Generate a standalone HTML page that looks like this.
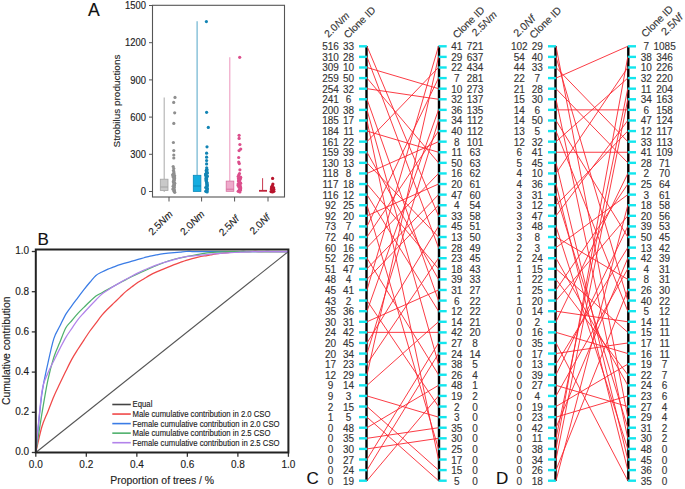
<!DOCTYPE html>
<html><head><meta charset="utf-8"><style>
html,body{margin:0;padding:0;background:#fff;width:685px;height:489px;overflow:hidden}
svg{display:block}
text{font-family:"Liberation Sans", sans-serif;stroke-width:0.14px}
</style></head><body>
<svg width="685" height="489" viewBox="0 0 685 489" font-family='"Liberation Sans", sans-serif'><text x="87.9" y="15.8" font-size="17.6" fill="#111" stroke="#111">A</text>
<rect x="152.5" y="5.3" width="132" height="191.7" fill="none" stroke="#555" stroke-width="1.1"/>
<line x1="149" y1="191.50" x2="152.5" y2="191.50" stroke="#555" stroke-width="1"/>
<text transform="translate(146,195.25) scale(0.96,1.06)" font-size="9.8" text-anchor="end" fill="#1c1c1c" stroke="#1c1c1c" stroke-width="0.22">0</text>
<line x1="149" y1="154.30" x2="152.5" y2="154.30" stroke="#555" stroke-width="1"/>
<text transform="translate(146,158.05) scale(0.96,1.06)" font-size="9.8" text-anchor="end" fill="#1c1c1c" stroke="#1c1c1c" stroke-width="0.22">300</text>
<line x1="149" y1="117.10" x2="152.5" y2="117.10" stroke="#555" stroke-width="1"/>
<text transform="translate(146,120.85) scale(0.96,1.06)" font-size="9.8" text-anchor="end" fill="#1c1c1c" stroke="#1c1c1c" stroke-width="0.22">600</text>
<line x1="149" y1="79.90" x2="152.5" y2="79.90" stroke="#555" stroke-width="1"/>
<text transform="translate(146,83.65) scale(0.96,1.06)" font-size="9.8" text-anchor="end" fill="#1c1c1c" stroke="#1c1c1c" stroke-width="0.22">900</text>
<line x1="149" y1="42.70" x2="152.5" y2="42.70" stroke="#555" stroke-width="1"/>
<text transform="translate(146,46.45) scale(0.96,1.06)" font-size="9.8" text-anchor="end" fill="#1c1c1c" stroke="#1c1c1c" stroke-width="0.22">1200</text>
<line x1="149" y1="5.50" x2="152.5" y2="5.50" stroke="#555" stroke-width="1"/>
<text transform="translate(146,9.25) scale(0.96,1.06)" font-size="9.8" text-anchor="end" fill="#1c1c1c" stroke="#1c1c1c" stroke-width="0.22">1500</text>
<text transform="translate(119.9,101) rotate(-90)" font-size="9.95" text-anchor="middle" fill="#1c1c1c" stroke="#1c1c1c" stroke-width="0.22">Strobilus productions</text>
<line x1="169" y1="197" x2="169" y2="201.5" stroke="#555" stroke-width="1"/>
<text transform="translate(173.3,214.9) rotate(-45)" font-size="10" text-anchor="end" fill="#1c1c1c" stroke="#1c1c1c" stroke-width="0.22">2.5<tspan font-style="italic">Nm</tspan></text>
<line x1="201.6" y1="197" x2="201.6" y2="201.5" stroke="#555" stroke-width="1"/>
<text transform="translate(205.2,214.8) rotate(-45)" font-size="10" text-anchor="end" fill="#1c1c1c" stroke="#1c1c1c" stroke-width="0.22">2.0<tspan font-style="italic">Nm</tspan></text>
<line x1="234.6" y1="197" x2="234.6" y2="201.5" stroke="#555" stroke-width="1"/>
<text transform="translate(239.8,219.6) rotate(-45)" font-size="10" text-anchor="end" fill="#1c1c1c" stroke="#1c1c1c" stroke-width="0.22">2.5<tspan font-style="italic">Nf</tspan></text>
<line x1="268" y1="197" x2="268" y2="201.5" stroke="#555" stroke-width="1"/>
<text transform="translate(270.7,218.0) rotate(-45)" font-size="10" text-anchor="end" fill="#1c1c1c" stroke="#1c1c1c" stroke-width="0.22">2.0<tspan font-style="italic">Nf</tspan></text>
<line x1="164.2" y1="97.4" x2="164.2" y2="179.2" stroke="#b0b0b0" stroke-width="1.1"/><line x1="164.2" y1="190.5" x2="164.2" y2="192" stroke="#b0b0b0" stroke-width="1"/><rect x="160.3" y="179.2" width="7.699999999999989" height="11.300000000000011" fill="#c9c9c9" stroke="#a3a3a3" stroke-width="0.8"/><line x1="160.3" y1="187" x2="168" y2="187" stroke="#a3a3a3" stroke-width="1"/>
<line x1="197.1" y1="21.2" x2="197.1" y2="175.3" stroke="#62aecd" stroke-width="1.1"/><rect x="193.3" y="175.3" width="7.599999999999994" height="16.099999999999994" fill="#14ade0" stroke="#0a88b8" stroke-width="0.8"/><line x1="193.3" y1="186" x2="200.9" y2="186" stroke="#0a88b8" stroke-width="1"/>
<line x1="229.8" y1="57.2" x2="229.8" y2="181.1" stroke="#ee9ec2" stroke-width="1.1"/><rect x="226.2" y="181.1" width="7.600000000000023" height="10.200000000000017" fill="#eeaacb" stroke="#d8709f" stroke-width="0.8"/><line x1="226.2" y1="189.2" x2="233.8" y2="189.2" stroke="#d8709f" stroke-width="1"/>
<line x1="262.6" y1="178.2" x2="262.6" y2="190.5" stroke="#c8384e" stroke-width="1"/>
<line x1="259" y1="190.8" x2="267" y2="190.8" stroke="#c0243c" stroke-width="1.8"/>
<circle cx="175" cy="97.4" r="1.6" fill="#8f8f8f"/><circle cx="173.7" cy="102.4" r="1.6" fill="#8f8f8f"/><circle cx="174.7" cy="112.8" r="1.6" fill="#8f8f8f"/><circle cx="173.8" cy="123.4" r="1.6" fill="#8f8f8f"/><circle cx="173.4" cy="142.5" r="1.6" fill="#8f8f8f"/><circle cx="173.8" cy="150.6" r="1.6" fill="#8f8f8f"/><circle cx="173.8" cy="155" r="1.6" fill="#8f8f8f"/><circle cx="173.8" cy="158" r="1.6" fill="#8f8f8f"/><circle cx="173.17592925418379" cy="166.5" r="1.6" fill="#8f8f8f"/><circle cx="173.7884584505919" cy="168.5" r="1.6" fill="#8f8f8f"/><circle cx="173.43991033309615" cy="170.5" r="1.6" fill="#8f8f8f"/><circle cx="173.9078400771924" cy="172" r="1.6" fill="#8f8f8f"/><circle cx="173.9514406082161" cy="173.5" r="1.6" fill="#8f8f8f"/><circle cx="173.13105771847964" cy="174.2" r="1.6" fill="#8f8f8f"/><circle cx="172.72633598310975" cy="175" r="1.6" fill="#8f8f8f"/><circle cx="174.67493816419292" cy="175.7" r="1.6" fill="#8f8f8f"/><circle cx="173.218708028656" cy="176.5" r="1.6" fill="#8f8f8f"/><circle cx="173.4686619220934" cy="177.2" r="1.6" fill="#8f8f8f"/><circle cx="174.6912896710209" cy="178" r="1.6" fill="#8f8f8f"/><circle cx="173.9405270150449" cy="178.7" r="1.6" fill="#8f8f8f"/><circle cx="174.37292290254877" cy="179.5" r="1.6" fill="#8f8f8f"/><circle cx="173.95270641739867" cy="180.2" r="1.6" fill="#8f8f8f"/><circle cx="173.97813628108833" cy="181" r="1.6" fill="#8f8f8f"/><circle cx="173.30123284804705" cy="181.7" r="1.6" fill="#8f8f8f"/><circle cx="173.96972131657037" cy="182.5" r="1.6" fill="#8f8f8f"/><circle cx="174.73609061428658" cy="183.2" r="1.6" fill="#8f8f8f"/><circle cx="173.7463624207666" cy="184" r="1.6" fill="#8f8f8f"/><circle cx="174.48250371240297" cy="184.7" r="1.6" fill="#8f8f8f"/><circle cx="174.04282295073918" cy="185.5" r="1.6" fill="#8f8f8f"/><circle cx="173.12806287645398" cy="186.2" r="1.6" fill="#8f8f8f"/><circle cx="174.21646049257362" cy="187" r="1.6" fill="#8f8f8f"/><circle cx="174.18219916586264" cy="187.7" r="1.6" fill="#8f8f8f"/><circle cx="173.30253531903142" cy="188.5" r="1.6" fill="#8f8f8f"/><circle cx="173.0620235029395" cy="189.2" r="1.6" fill="#8f8f8f"/><circle cx="174.4310544739579" cy="190" r="1.6" fill="#8f8f8f"/><circle cx="173.94549817733093" cy="190.7" r="1.6" fill="#8f8f8f"/><circle cx="174.1376478481316" cy="191.6" r="1.6" fill="#8f8f8f"/><circle cx="174.75762560051098" cy="192.29999999999998" r="1.6" fill="#8f8f8f"/>
<circle cx="206.4" cy="21.6" r="1.6" fill="#1284b4"/><circle cx="206.6" cy="112.3" r="1.6" fill="#1284b4"/><circle cx="208.3" cy="127.4" r="1.6" fill="#1284b4"/><circle cx="207" cy="146.8" r="1.6" fill="#1284b4"/><circle cx="206.6" cy="153.2" r="1.6" fill="#1284b4"/><circle cx="206.6" cy="157.2" r="1.6" fill="#1284b4"/><circle cx="206.6" cy="160.5" r="1.6" fill="#1284b4"/><circle cx="206.6" cy="163.9" r="1.6" fill="#1284b4"/><circle cx="206.68543307050018" cy="167.8" r="1.6" fill="#1284b4"/><circle cx="207.05797760165098" cy="169.5" r="1.6" fill="#1284b4"/><circle cx="206.31093412720134" cy="170.2" r="1.6" fill="#1284b4"/><circle cx="206.8416357877734" cy="171" r="1.6" fill="#1284b4"/><circle cx="206.40031790089137" cy="171.7" r="1.6" fill="#1284b4"/><circle cx="207.08405609906814" cy="172.5" r="1.6" fill="#1284b4"/><circle cx="207.18195998860847" cy="173.2" r="1.6" fill="#1284b4"/><circle cx="205.5754177575156" cy="174" r="1.6" fill="#1284b4"/><circle cx="205.8447439483612" cy="174.7" r="1.6" fill="#1284b4"/><circle cx="205.79057649421966" cy="175.5" r="1.6" fill="#1284b4"/><circle cx="207.33786425001676" cy="176.2" r="1.6" fill="#1284b4"/><circle cx="206.18509135992937" cy="177" r="1.6" fill="#1284b4"/><circle cx="206.72796692356025" cy="177.7" r="1.6" fill="#1284b4"/><circle cx="205.9418471571659" cy="178.5" r="1.6" fill="#1284b4"/><circle cx="206.5130373708923" cy="179.2" r="1.6" fill="#1284b4"/><circle cx="206.09455926592085" cy="180" r="1.6" fill="#1284b4"/><circle cx="206.23163887978632" cy="180.7" r="1.6" fill="#1284b4"/><circle cx="206.45313339332967" cy="181.5" r="1.6" fill="#1284b4"/><circle cx="206.65165322734634" cy="182.2" r="1.6" fill="#1284b4"/><circle cx="207.027563187526" cy="183" r="1.6" fill="#1284b4"/><circle cx="206.82756784594295" cy="183.7" r="1.6" fill="#1284b4"/><circle cx="207.07210208216003" cy="184.5" r="1.6" fill="#1284b4"/><circle cx="207.14152101951416" cy="185.2" r="1.6" fill="#1284b4"/><circle cx="207.18378136076387" cy="186" r="1.6" fill="#1284b4"/><circle cx="206.80829237589253" cy="186.7" r="1.6" fill="#1284b4"/><circle cx="205.69357931954795" cy="187.5" r="1.6" fill="#1284b4"/><circle cx="207.14914755960928" cy="188.2" r="1.6" fill="#1284b4"/><circle cx="207.13633930515633" cy="189" r="1.6" fill="#1284b4"/><circle cx="207.22845277212204" cy="189.7" r="1.6" fill="#1284b4"/><circle cx="206.4243935062538" cy="190.5" r="1.6" fill="#1284b4"/><circle cx="206.88487063631356" cy="191.2" r="1.6" fill="#1284b4"/><circle cx="205.7800249706161" cy="191.3" r="1.6" fill="#1284b4"/><circle cx="207.09689427449203" cy="192.0" r="1.6" fill="#1284b4"/>
<circle cx="239.7" cy="57.3" r="1.6" fill="#dc4e8c"/><circle cx="239.1" cy="135.3" r="1.6" fill="#dc4e8c"/><circle cx="239.1" cy="138.4" r="1.6" fill="#dc4e8c"/><circle cx="239.9" cy="144.5" r="1.6" fill="#dc4e8c"/><circle cx="240.7" cy="149.1" r="1.6" fill="#dc4e8c"/><circle cx="239.1" cy="150.6" r="1.6" fill="#dc4e8c"/><circle cx="238.7" cy="157.5" r="1.6" fill="#dc4e8c"/><circle cx="238.7" cy="162.1" r="1.6" fill="#dc4e8c"/><circle cx="239.3" cy="163.6" r="1.6" fill="#dc4e8c"/><circle cx="239.9" cy="169.8" r="1.6" fill="#dc4e8c"/><circle cx="239.49118411611332" cy="173.6" r="1.6" fill="#dc4e8c"/><circle cx="238.7408894011641" cy="175" r="1.6" fill="#dc4e8c"/><circle cx="238.16499750057758" cy="176.5" r="1.6" fill="#dc4e8c"/><circle cx="240.5910389675835" cy="177.2" r="1.6" fill="#dc4e8c"/><circle cx="240.5734956387961" cy="178" r="1.6" fill="#dc4e8c"/><circle cx="238.44785066070725" cy="178.7" r="1.6" fill="#dc4e8c"/><circle cx="240.0815478352695" cy="179.5" r="1.6" fill="#dc4e8c"/><circle cx="239.34929311656853" cy="180.2" r="1.6" fill="#dc4e8c"/><circle cx="238.3919899735773" cy="181" r="1.6" fill="#dc4e8c"/><circle cx="239.02289549109338" cy="181.7" r="1.6" fill="#dc4e8c"/><circle cx="239.99885890692107" cy="182.5" r="1.6" fill="#dc4e8c"/><circle cx="240.64374766895895" cy="183.2" r="1.6" fill="#dc4e8c"/><circle cx="238.1148941589368" cy="184" r="1.6" fill="#dc4e8c"/><circle cx="239.92069107988905" cy="184.7" r="1.6" fill="#dc4e8c"/><circle cx="238.11684463308967" cy="185.5" r="1.6" fill="#dc4e8c"/><circle cx="240.21163333685584" cy="186.2" r="1.6" fill="#dc4e8c"/><circle cx="238.8604807796494" cy="187" r="1.6" fill="#dc4e8c"/><circle cx="240.6665348602926" cy="187.7" r="1.6" fill="#dc4e8c"/><circle cx="240.54965296779267" cy="188.5" r="1.6" fill="#dc4e8c"/><circle cx="239.6151770462145" cy="189.2" r="1.6" fill="#dc4e8c"/><circle cx="240.596123257977" cy="190" r="1.6" fill="#dc4e8c"/><circle cx="239.06707614973374" cy="190.7" r="1.6" fill="#dc4e8c"/><circle cx="238.20012383223406" cy="191.3" r="1.6" fill="#dc4e8c"/><circle cx="239.87933586463046" cy="192.0" r="1.6" fill="#dc4e8c"/>
<circle cx="272.6" cy="178.4" r="1.6" fill="#b8142c"/><circle cx="272.9" cy="184" r="1.6" fill="#b8142c"/><circle cx="272.4" cy="185.5" r="1.6" fill="#b8142c"/><circle cx="271.5" cy="187" r="1.6" fill="#b8142c"/><circle cx="273.5" cy="187.5" r="1.6" fill="#b8142c"/><circle cx="271.3" cy="189" r="1.6" fill="#b8142c"/><circle cx="273.8" cy="189.2" r="1.6" fill="#b8142c"/><circle cx="272.2" cy="190.5" r="1.6" fill="#b8142c"/><circle cx="271" cy="191.6" r="1.6" fill="#b8142c"/><circle cx="273.9" cy="191.3" r="1.6" fill="#b8142c"/><circle cx="272.5" cy="192" r="1.6" fill="#b8142c"/>
<text x="37.5" y="245.4" font-size="17" fill="#111" stroke="#111">B</text>
<text transform="translate(9.8,350.8) rotate(-90)" font-size="10.4" text-anchor="middle" fill="#1c1c1c" stroke="#1c1c1c" stroke-width="0.22">Cumulative contribution</text>
<text x="162.2" y="484.4" font-size="10.45" text-anchor="middle" fill="#1c1c1c" stroke="#1c1c1c" stroke-width="0.22">Proportion of trees / %</text>
<line x1="31.8" y1="452.50" x2="35.8" y2="452.50" stroke="#333" stroke-width="1.3"/>
<text x="29.2" y="455.40" font-size="10" text-anchor="end" fill="#1c1c1c" stroke="#1c1c1c" stroke-width="0.22">0.0</text>
<line x1="35.80" y1="452.5" x2="35.80" y2="456.8" stroke="#333" stroke-width="1.3"/>
<text x="35.80" y="467.6" font-size="10" text-anchor="middle" fill="#1c1c1c" stroke="#1c1c1c" stroke-width="0.22">0.0</text>
<line x1="31.8" y1="412.30" x2="35.8" y2="412.30" stroke="#333" stroke-width="1.3"/>
<text x="29.2" y="415.20" font-size="10" text-anchor="end" fill="#1c1c1c" stroke="#1c1c1c" stroke-width="0.22">0.2</text>
<line x1="86.32" y1="452.5" x2="86.32" y2="456.8" stroke="#333" stroke-width="1.3"/>
<text x="86.32" y="467.6" font-size="10" text-anchor="middle" fill="#1c1c1c" stroke="#1c1c1c" stroke-width="0.22">0.2</text>
<line x1="31.8" y1="372.10" x2="35.8" y2="372.10" stroke="#333" stroke-width="1.3"/>
<text x="29.2" y="375.00" font-size="10" text-anchor="end" fill="#1c1c1c" stroke="#1c1c1c" stroke-width="0.22">0.4</text>
<line x1="136.84" y1="452.5" x2="136.84" y2="456.8" stroke="#333" stroke-width="1.3"/>
<text x="136.84" y="467.6" font-size="10" text-anchor="middle" fill="#1c1c1c" stroke="#1c1c1c" stroke-width="0.22">0.4</text>
<line x1="31.8" y1="331.90" x2="35.8" y2="331.90" stroke="#333" stroke-width="1.3"/>
<text x="29.2" y="334.80" font-size="10" text-anchor="end" fill="#1c1c1c" stroke="#1c1c1c" stroke-width="0.22">0.6</text>
<line x1="187.36" y1="452.5" x2="187.36" y2="456.8" stroke="#333" stroke-width="1.3"/>
<text x="187.36" y="467.6" font-size="10" text-anchor="middle" fill="#1c1c1c" stroke="#1c1c1c" stroke-width="0.22">0.6</text>
<line x1="31.8" y1="291.70" x2="35.8" y2="291.70" stroke="#333" stroke-width="1.3"/>
<text x="29.2" y="294.60" font-size="10" text-anchor="end" fill="#1c1c1c" stroke="#1c1c1c" stroke-width="0.22">0.8</text>
<line x1="237.88" y1="452.5" x2="237.88" y2="456.8" stroke="#333" stroke-width="1.3"/>
<text x="237.88" y="467.6" font-size="10" text-anchor="middle" fill="#1c1c1c" stroke="#1c1c1c" stroke-width="0.22">0.8</text>
<line x1="31.8" y1="251.50" x2="35.8" y2="251.50" stroke="#333" stroke-width="1.3"/>
<text x="29.2" y="254.40" font-size="10" text-anchor="end" fill="#1c1c1c" stroke="#1c1c1c" stroke-width="0.22">1.0</text>
<line x1="288.40" y1="452.5" x2="288.40" y2="456.8" stroke="#333" stroke-width="1.3"/>
<text x="288.40" y="467.6" font-size="10" text-anchor="middle" fill="#1c1c1c" stroke="#1c1c1c" stroke-width="0.22">1.0</text>
<line x1="35.8" y1="452.5" x2="288.4" y2="251.5" stroke="#555" stroke-width="1.1"/>
<path d="M35.80,452.50 C36.80,448.25 39.81,433.80 41.81,426.99 C43.82,420.19 45.82,416.77 47.83,411.67 C49.83,406.57 51.84,401.07 53.84,396.39 C55.85,391.71 57.85,387.82 59.86,383.59 C61.86,379.36 63.87,375.11 65.87,371.03 C67.88,366.95 69.88,362.75 71.89,359.12 C73.89,355.49 75.90,352.40 77.90,349.23 C79.90,346.06 81.91,343.13 83.91,340.09 C85.92,337.05 87.92,333.83 89.93,330.99 C91.93,328.15 93.94,325.67 95.94,323.03 C97.95,320.39 99.95,317.55 101.96,315.17 C103.96,312.79 105.97,310.79 107.97,308.74 C109.98,306.70 111.98,304.85 113.99,302.91 C115.99,300.98 118.00,299.05 120.00,297.13 C122.00,295.21 124.01,293.11 126.01,291.39 C128.02,289.68 130.02,288.36 132.03,286.85 C134.03,285.33 136.04,283.66 138.04,282.30 C140.05,280.94 142.05,279.88 144.06,278.69 C146.06,277.49 148.07,276.22 150.07,275.13 C152.08,274.04 154.08,273.09 156.09,272.16 C158.09,271.24 160.10,270.44 162.10,269.59 C164.10,268.74 166.11,267.89 168.11,267.07 C170.12,266.26 172.12,265.47 174.13,264.70 C176.13,263.93 178.14,263.20 180.14,262.47 C182.15,261.75 184.15,260.99 186.16,260.35 C188.16,259.71 190.17,259.15 192.17,258.62 C194.18,258.08 196.18,257.58 198.19,257.14 C200.19,256.69 202.20,256.31 204.20,255.95 C206.20,255.59 208.21,255.29 210.21,254.96 C212.22,254.63 214.22,254.28 216.23,253.97 C218.23,253.67 220.24,253.37 222.24,253.13 C224.25,252.89 226.25,252.71 228.26,252.54 C230.26,252.37 232.27,252.24 234.27,252.09 C236.28,251.94 238.28,251.74 240.29,251.65 C242.29,251.56 244.30,251.57 246.30,251.55 C248.30,251.52 250.31,251.51 252.31,251.50 C254.32,251.49 256.32,251.50 258.33,251.50 C260.33,251.50 262.34,251.50 264.34,251.50 C266.35,251.50 268.35,251.50 270.36,251.50 C272.36,251.50 274.37,251.50 276.37,251.50 C278.38,251.50 280.38,251.50 282.39,251.50 C284.39,251.50 287.40,251.50 288.40,251.50" fill="none" stroke="#f04848" stroke-width="1.25" stroke-linejoin="round"/>
<path d="M35.80,452.50 C36.80,442.82 39.81,409.23 41.81,394.42 C43.82,379.62 45.82,372.97 47.83,363.67 C49.83,354.37 51.84,344.88 53.84,338.62 C55.85,332.36 57.85,330.17 59.86,326.09 C61.86,322.01 63.87,317.55 65.87,314.13 C67.88,310.72 69.88,308.35 71.89,305.59 C73.89,302.84 75.90,300.28 77.90,297.62 C79.90,294.96 81.91,292.21 83.91,289.65 C85.92,287.09 87.92,284.62 89.93,282.25 C91.93,279.88 93.94,277.12 95.94,275.42 C97.95,273.71 99.95,273.04 101.96,272.00 C103.96,270.95 105.97,270.01 107.97,269.15 C109.98,268.30 111.98,267.63 113.99,266.87 C115.99,266.11 118.00,265.26 120.00,264.60 C122.00,263.93 124.01,263.46 126.01,262.89 C128.02,262.32 130.02,261.75 132.03,261.18 C134.03,260.61 136.04,260.04 138.04,259.47 C140.05,258.90 142.05,258.33 144.06,257.76 C146.06,257.19 148.07,256.53 150.07,256.06 C152.08,255.58 154.08,255.30 156.09,254.92 C158.09,254.54 160.10,254.06 162.10,253.78 C164.10,253.49 166.11,253.40 168.11,253.21 C170.12,253.02 172.12,252.83 174.13,252.64 C176.13,252.45 178.14,252.26 180.14,252.07 C182.15,251.88 184.15,251.59 186.16,251.50 C188.16,251.41 190.17,251.50 192.17,251.50 C194.18,251.50 196.18,251.50 198.19,251.50 C200.19,251.50 202.20,251.50 204.20,251.50 C206.20,251.50 208.21,251.50 210.21,251.50 C212.22,251.50 214.22,251.50 216.23,251.50 C218.23,251.50 220.24,251.50 222.24,251.50 C224.25,251.50 226.25,251.50 228.26,251.50 C230.26,251.50 232.27,251.50 234.27,251.50 C236.28,251.50 238.28,251.50 240.29,251.50 C242.29,251.50 244.30,251.50 246.30,251.50 C248.30,251.50 250.31,251.50 252.31,251.50 C254.32,251.50 256.32,251.50 258.33,251.50 C260.33,251.50 262.34,251.50 264.34,251.50 C266.35,251.50 268.35,251.50 270.36,251.50 C272.36,251.50 274.37,251.50 276.37,251.50 C278.38,251.50 280.38,251.50 282.39,251.50 C284.39,251.50 287.40,251.50 288.40,251.50" fill="none" stroke="#3a7ce6" stroke-width="1.25" stroke-linejoin="round"/>
<path d="M35.80,452.50 C36.80,446.11 39.81,426.20 41.81,414.17 C43.82,402.14 45.82,389.80 47.83,380.31 C49.83,370.82 51.84,363.57 53.84,357.24 C55.85,350.90 57.85,347.21 59.86,342.30 C61.86,337.39 63.87,331.42 65.87,327.79 C67.88,324.15 69.88,322.91 71.89,320.50 C73.89,318.09 75.90,315.51 77.90,313.33 C79.90,311.14 81.91,309.36 83.91,307.37 C85.92,305.39 87.92,303.30 89.93,301.42 C91.93,299.53 93.94,297.50 95.94,296.05 C97.95,294.60 99.95,293.82 101.96,292.70 C103.96,291.58 105.97,290.46 107.97,289.35 C109.98,288.24 111.98,287.14 113.99,286.05 C115.99,284.96 118.00,283.88 120.00,282.81 C122.00,281.74 124.01,280.67 126.01,279.62 C128.02,278.58 130.02,277.53 132.03,276.54 C134.03,275.55 136.04,274.60 138.04,273.67 C140.05,272.74 142.05,271.85 144.06,270.96 C146.06,270.06 148.07,269.18 150.07,268.30 C152.08,267.42 154.08,266.53 156.09,265.69 C158.09,264.86 160.10,264.08 162.10,263.30 C164.10,262.52 166.11,261.69 168.11,261.02 C170.12,260.34 172.12,259.79 174.13,259.26 C176.13,258.73 178.14,258.26 180.14,257.83 C182.15,257.39 184.15,257.05 186.16,256.66 C188.16,256.27 190.17,255.87 192.17,255.49 C194.18,255.11 196.18,254.73 198.19,254.37 C200.19,254.01 202.20,253.61 204.20,253.31 C206.20,253.01 208.21,252.76 210.21,252.56 C212.22,252.37 214.22,252.25 216.23,252.14 C218.23,252.02 220.24,251.95 222.24,251.87 C224.25,251.79 226.25,251.71 228.26,251.66 C230.26,251.61 232.27,251.58 234.27,251.55 C236.28,251.53 238.28,251.51 240.29,251.50 C242.29,251.49 244.30,251.50 246.30,251.50 C248.30,251.50 250.31,251.50 252.31,251.50 C254.32,251.50 256.32,251.50 258.33,251.50 C260.33,251.50 262.34,251.50 264.34,251.50 C266.35,251.50 268.35,251.50 270.36,251.50 C272.36,251.50 274.37,251.50 276.37,251.50 C278.38,251.50 280.38,251.50 282.39,251.50 C284.39,251.50 287.40,251.50 288.40,251.50" fill="none" stroke="#4fb06c" stroke-width="1.25" stroke-linejoin="round"/>
<path d="M35.80,452.50 C36.80,442.49 39.81,405.65 41.81,392.45 C43.82,379.26 45.82,378.58 47.83,373.31 C49.83,368.03 51.84,364.91 53.84,360.80 C55.85,356.69 57.85,352.53 59.86,348.62 C61.86,344.71 63.87,340.72 65.87,337.33 C67.88,333.95 69.88,331.27 71.89,328.31 C73.89,325.35 75.90,322.17 77.90,319.57 C79.90,316.97 81.91,314.93 83.91,312.71 C85.92,310.48 87.92,308.35 89.93,306.23 C91.93,304.11 93.94,302.03 95.94,299.98 C97.95,297.93 99.95,295.61 101.96,293.95 C103.96,292.29 105.97,291.32 107.97,290.02 C109.98,288.72 111.98,287.38 113.99,286.14 C115.99,284.91 118.00,283.75 120.00,282.60 C122.00,281.45 124.01,280.32 126.01,279.23 C128.02,278.13 130.02,277.07 132.03,276.02 C134.03,274.96 136.04,273.92 138.04,272.92 C140.05,271.91 142.05,270.89 144.06,269.98 C146.06,269.08 148.07,268.30 150.07,267.49 C152.08,266.69 154.08,265.92 156.09,265.17 C158.09,264.42 160.10,263.66 162.10,263.01 C164.10,262.37 166.11,261.87 168.11,261.30 C170.12,260.72 172.12,260.14 174.13,259.58 C176.13,259.02 178.14,258.40 180.14,257.92 C182.15,257.44 184.15,257.02 186.16,256.70 C188.16,256.39 190.17,256.25 192.17,256.04 C194.18,255.83 196.18,255.63 198.19,255.43 C200.19,255.23 202.20,255.02 204.20,254.82 C206.20,254.62 208.21,254.41 210.21,254.21 C212.22,254.01 214.22,253.77 216.23,253.60 C218.23,253.44 220.24,253.34 222.24,253.22 C224.25,253.09 226.25,252.95 228.26,252.83 C230.26,252.71 232.27,252.61 234.27,252.50 C236.28,252.39 238.28,252.26 240.29,252.16 C242.29,252.07 244.30,252.02 246.30,251.94 C248.30,251.87 250.31,251.78 252.31,251.72 C254.32,251.67 256.32,251.65 258.33,251.61 C260.33,251.57 262.34,251.52 264.34,251.50 C266.35,251.48 268.35,251.50 270.36,251.50 C272.36,251.50 274.37,251.50 276.37,251.50 C278.38,251.50 280.38,251.50 282.39,251.50 C284.39,251.50 287.40,251.50 288.40,251.50" fill="none" stroke="#b283ea" stroke-width="1.25" stroke-linejoin="round"/>
<path d="M35.8,249.6 H288.4 V452.5 H35.8 Z" fill="none" stroke="#222" stroke-width="2"/>
<line x1="112.3" y1="404.50" x2="130.8" y2="404.50" stroke="#444" stroke-width="1.6"/>
<text transform="translate(132.6,407.40) scale(0.9,1)" font-size="8.6" fill="#1c1c1c" stroke="#1c1c1c" stroke-width="0.22">Equal</text>
<line x1="112.3" y1="414.05" x2="130.8" y2="414.05" stroke="#f04848" stroke-width="1.6"/>
<text transform="translate(132.6,416.95) scale(0.9,1)" font-size="8.6" fill="#1c1c1c" stroke="#1c1c1c" stroke-width="0.22">Male cumulative contribution in 2.0 CSO</text>
<line x1="112.3" y1="423.60" x2="130.8" y2="423.60" stroke="#3a7ce6" stroke-width="1.6"/>
<text transform="translate(132.6,426.50) scale(0.9,1)" font-size="8.6" fill="#1c1c1c" stroke="#1c1c1c" stroke-width="0.22">Female cumulative contribution in 2.0 CSO</text>
<line x1="112.3" y1="433.15" x2="130.8" y2="433.15" stroke="#4fb06c" stroke-width="1.6"/>
<text transform="translate(132.6,436.05) scale(0.9,1)" font-size="8.6" fill="#1c1c1c" stroke="#1c1c1c" stroke-width="0.22">Male cumulative contribution in 2.5 CSO</text>
<line x1="112.3" y1="442.70" x2="130.8" y2="442.70" stroke="#b283ea" stroke-width="1.6"/>
<text transform="translate(132.6,445.60) scale(0.9,1)" font-size="8.6" fill="#1c1c1c" stroke="#1c1c1c" stroke-width="0.22">Female cumulative contribution in 2.5 CSO</text>
<g font-size="10" fill="#363636" stroke="#363636">
<text x="330.5" y="50.30" text-anchor="middle">516</text><text x="348.6" y="50.30" text-anchor="middle">33</text><text x="330.5" y="60.89" text-anchor="middle">310</text><text x="348.6" y="60.89" text-anchor="middle">28</text><text x="330.5" y="71.49" text-anchor="middle">309</text><text x="348.6" y="71.49" text-anchor="middle">10</text><text x="330.5" y="82.09" text-anchor="middle">259</text><text x="348.6" y="82.09" text-anchor="middle">50</text><text x="330.5" y="92.68" text-anchor="middle">254</text><text x="348.6" y="92.68" text-anchor="middle">32</text><text x="330.5" y="103.28" text-anchor="middle">241</text><text x="348.6" y="103.28" text-anchor="middle">6</text><text x="330.5" y="113.87" text-anchor="middle">200</text><text x="348.6" y="113.87" text-anchor="middle">38</text><text x="330.5" y="124.47" text-anchor="middle">185</text><text x="348.6" y="124.47" text-anchor="middle">17</text><text x="330.5" y="135.06" text-anchor="middle">184</text><text x="348.6" y="135.06" text-anchor="middle">11</text><text x="330.5" y="145.66" text-anchor="middle">161</text><text x="348.6" y="145.66" text-anchor="middle">22</text><text x="330.5" y="156.25" text-anchor="middle">159</text><text x="348.6" y="156.25" text-anchor="middle">39</text><text x="330.5" y="166.84" text-anchor="middle">130</text><text x="348.6" y="166.84" text-anchor="middle">13</text><text x="330.5" y="177.44" text-anchor="middle">118</text><text x="348.6" y="177.44" text-anchor="middle">8</text><text x="330.5" y="188.04" text-anchor="middle">117</text><text x="348.6" y="188.04" text-anchor="middle">18</text><text x="330.5" y="198.63" text-anchor="middle">116</text><text x="348.6" y="198.63" text-anchor="middle">12</text><text x="330.5" y="209.23" text-anchor="middle">92</text><text x="348.6" y="209.23" text-anchor="middle">25</text><text x="330.5" y="219.82" text-anchor="middle">92</text><text x="348.6" y="219.82" text-anchor="middle">20</text><text x="330.5" y="230.42" text-anchor="middle">73</text><text x="348.6" y="230.42" text-anchor="middle">7</text><text x="330.5" y="241.01" text-anchor="middle">72</text><text x="348.6" y="241.01" text-anchor="middle">40</text><text x="330.5" y="251.61" text-anchor="middle">60</text><text x="348.6" y="251.61" text-anchor="middle">16</text><text x="330.5" y="262.20" text-anchor="middle">52</text><text x="348.6" y="262.20" text-anchor="middle">26</text><text x="330.5" y="272.80" text-anchor="middle">51</text><text x="348.6" y="272.80" text-anchor="middle">47</text><text x="330.5" y="283.39" text-anchor="middle">48</text><text x="348.6" y="283.39" text-anchor="middle">4</text><text x="330.5" y="293.99" text-anchor="middle">45</text><text x="348.6" y="293.99" text-anchor="middle">41</text><text x="330.5" y="304.58" text-anchor="middle">43</text><text x="348.6" y="304.58" text-anchor="middle">2</text><text x="330.5" y="315.18" text-anchor="middle">35</text><text x="348.6" y="315.18" text-anchor="middle">36</text><text x="330.5" y="325.77" text-anchor="middle">30</text><text x="348.6" y="325.77" text-anchor="middle">31</text><text x="330.5" y="336.37" text-anchor="middle">24</text><text x="348.6" y="336.37" text-anchor="middle">42</text><text x="330.5" y="346.96" text-anchor="middle">20</text><text x="348.6" y="346.96" text-anchor="middle">45</text><text x="330.5" y="357.56" text-anchor="middle">20</text><text x="348.6" y="357.56" text-anchor="middle">34</text><text x="330.5" y="368.15" text-anchor="middle">17</text><text x="348.6" y="368.15" text-anchor="middle">23</text><text x="330.5" y="378.75" text-anchor="middle">12</text><text x="348.6" y="378.75" text-anchor="middle">29</text><text x="330.5" y="389.34" text-anchor="middle">9</text><text x="348.6" y="389.34" text-anchor="middle">14</text><text x="330.5" y="399.94" text-anchor="middle">9</text><text x="348.6" y="399.94" text-anchor="middle">3</text><text x="330.5" y="410.53" text-anchor="middle">2</text><text x="348.6" y="410.53" text-anchor="middle">15</text><text x="330.5" y="421.13" text-anchor="middle">1</text><text x="348.6" y="421.13" text-anchor="middle">5</text><text x="330.5" y="431.72" text-anchor="middle">0</text><text x="348.6" y="431.72" text-anchor="middle">48</text><text x="330.5" y="442.32" text-anchor="middle">0</text><text x="348.6" y="442.32" text-anchor="middle">35</text><text x="330.5" y="452.91" text-anchor="middle">0</text><text x="348.6" y="452.91" text-anchor="middle">30</text><text x="330.5" y="463.51" text-anchor="middle">0</text><text x="348.6" y="463.51" text-anchor="middle">27</text><text x="330.5" y="474.10" text-anchor="middle">0</text><text x="348.6" y="474.10" text-anchor="middle">24</text><text x="330.5" y="484.70" text-anchor="middle">0</text><text x="348.6" y="484.70" text-anchor="middle">19</text><text x="456.8" y="50.30" text-anchor="middle">41</text><text x="475" y="50.30" text-anchor="middle">721</text><text x="456.8" y="60.89" text-anchor="middle">29</text><text x="475" y="60.89" text-anchor="middle">637</text><text x="456.8" y="71.49" text-anchor="middle">22</text><text x="475" y="71.49" text-anchor="middle">434</text><text x="456.8" y="82.09" text-anchor="middle">7</text><text x="475" y="82.09" text-anchor="middle">281</text><text x="456.8" y="92.68" text-anchor="middle">10</text><text x="475" y="92.68" text-anchor="middle">273</text><text x="456.8" y="103.28" text-anchor="middle">32</text><text x="475" y="103.28" text-anchor="middle">137</text><text x="456.8" y="113.87" text-anchor="middle">36</text><text x="475" y="113.87" text-anchor="middle">135</text><text x="456.8" y="124.47" text-anchor="middle">34</text><text x="475" y="124.47" text-anchor="middle">112</text><text x="456.8" y="135.06" text-anchor="middle">40</text><text x="475" y="135.06" text-anchor="middle">112</text><text x="456.8" y="145.66" text-anchor="middle">8</text><text x="475" y="145.66" text-anchor="middle">101</text><text x="456.8" y="156.25" text-anchor="middle">11</text><text x="475" y="156.25" text-anchor="middle">63</text><text x="456.8" y="166.84" text-anchor="middle">50</text><text x="475" y="166.84" text-anchor="middle">63</text><text x="456.8" y="177.44" text-anchor="middle">16</text><text x="475" y="177.44" text-anchor="middle">62</text><text x="456.8" y="188.04" text-anchor="middle">20</text><text x="475" y="188.04" text-anchor="middle">61</text><text x="456.8" y="198.63" text-anchor="middle">47</text><text x="475" y="198.63" text-anchor="middle">60</text><text x="456.8" y="209.23" text-anchor="middle">4</text><text x="475" y="209.23" text-anchor="middle">54</text><text x="456.8" y="219.82" text-anchor="middle">33</text><text x="475" y="219.82" text-anchor="middle">58</text><text x="456.8" y="230.42" text-anchor="middle">45</text><text x="475" y="230.42" text-anchor="middle">51</text><text x="456.8" y="241.01" text-anchor="middle">13</text><text x="475" y="241.01" text-anchor="middle">50</text><text x="456.8" y="251.61" text-anchor="middle">28</text><text x="475" y="251.61" text-anchor="middle">49</text><text x="456.8" y="262.20" text-anchor="middle">23</text><text x="475" y="262.20" text-anchor="middle">45</text><text x="456.8" y="272.80" text-anchor="middle">18</text><text x="475" y="272.80" text-anchor="middle">43</text><text x="456.8" y="283.39" text-anchor="middle">39</text><text x="475" y="283.39" text-anchor="middle">33</text><text x="456.8" y="293.99" text-anchor="middle">31</text><text x="475" y="293.99" text-anchor="middle">27</text><text x="456.8" y="304.58" text-anchor="middle">6</text><text x="475" y="304.58" text-anchor="middle">22</text><text x="456.8" y="315.18" text-anchor="middle">12</text><text x="475" y="315.18" text-anchor="middle">22</text><text x="456.8" y="325.77" text-anchor="middle">14</text><text x="475" y="325.77" text-anchor="middle">21</text><text x="456.8" y="336.37" text-anchor="middle">42</text><text x="475" y="336.37" text-anchor="middle">20</text><text x="456.8" y="346.96" text-anchor="middle">27</text><text x="475" y="346.96" text-anchor="middle">8</text><text x="456.8" y="357.56" text-anchor="middle">24</text><text x="475" y="357.56" text-anchor="middle">14</text><text x="456.8" y="368.15" text-anchor="middle">38</text><text x="475" y="368.15" text-anchor="middle">5</text><text x="456.8" y="378.75" text-anchor="middle">26</text><text x="475" y="378.75" text-anchor="middle">4</text><text x="456.8" y="389.34" text-anchor="middle">48</text><text x="475" y="389.34" text-anchor="middle">1</text><text x="456.8" y="399.94" text-anchor="middle">19</text><text x="475" y="399.94" text-anchor="middle">2</text><text x="456.8" y="410.53" text-anchor="middle">2</text><text x="475" y="410.53" text-anchor="middle">0</text><text x="456.8" y="421.13" text-anchor="middle">3</text><text x="475" y="421.13" text-anchor="middle">0</text><text x="456.8" y="431.72" text-anchor="middle">35</text><text x="475" y="431.72" text-anchor="middle">0</text><text x="456.8" y="442.32" text-anchor="middle">30</text><text x="475" y="442.32" text-anchor="middle">0</text><text x="456.8" y="452.91" text-anchor="middle">25</text><text x="475" y="452.91" text-anchor="middle">0</text><text x="456.8" y="463.51" text-anchor="middle">17</text><text x="475" y="463.51" text-anchor="middle">0</text><text x="456.8" y="474.10" text-anchor="middle">15</text><text x="475" y="474.10" text-anchor="middle">0</text><text x="456.8" y="484.70" text-anchor="middle">5</text><text x="475" y="484.70" text-anchor="middle">0</text><line x1="366.5" y1="46.00" x2="366.5" y2="481.00" stroke="#000" stroke-width="2.4"/><line x1="439" y1="46.00" x2="439" y2="481.00" stroke="#000" stroke-width="2.4"/><line x1="359.0" y1="46.30" x2="367.1" y2="46.30" stroke="#12e6ee" stroke-width="2.4"/><line x1="438.4" y1="46.30" x2="446.7" y2="46.30" stroke="#12e6ee" stroke-width="2.4"/><line x1="359.0" y1="56.89" x2="367.1" y2="56.89" stroke="#12e6ee" stroke-width="2.4"/><line x1="438.4" y1="56.89" x2="446.7" y2="56.89" stroke="#12e6ee" stroke-width="2.4"/><line x1="359.0" y1="67.49" x2="367.1" y2="67.49" stroke="#12e6ee" stroke-width="2.4"/><line x1="438.4" y1="67.49" x2="446.7" y2="67.49" stroke="#12e6ee" stroke-width="2.4"/><line x1="359.0" y1="78.09" x2="367.1" y2="78.09" stroke="#12e6ee" stroke-width="2.4"/><line x1="438.4" y1="78.09" x2="446.7" y2="78.09" stroke="#12e6ee" stroke-width="2.4"/><line x1="359.0" y1="88.68" x2="367.1" y2="88.68" stroke="#12e6ee" stroke-width="2.4"/><line x1="438.4" y1="88.68" x2="446.7" y2="88.68" stroke="#12e6ee" stroke-width="2.4"/><line x1="359.0" y1="99.28" x2="367.1" y2="99.28" stroke="#12e6ee" stroke-width="2.4"/><line x1="438.4" y1="99.28" x2="446.7" y2="99.28" stroke="#12e6ee" stroke-width="2.4"/><line x1="359.0" y1="109.87" x2="367.1" y2="109.87" stroke="#12e6ee" stroke-width="2.4"/><line x1="438.4" y1="109.87" x2="446.7" y2="109.87" stroke="#12e6ee" stroke-width="2.4"/><line x1="359.0" y1="120.47" x2="367.1" y2="120.47" stroke="#12e6ee" stroke-width="2.4"/><line x1="438.4" y1="120.47" x2="446.7" y2="120.47" stroke="#12e6ee" stroke-width="2.4"/><line x1="359.0" y1="131.06" x2="367.1" y2="131.06" stroke="#12e6ee" stroke-width="2.4"/><line x1="438.4" y1="131.06" x2="446.7" y2="131.06" stroke="#12e6ee" stroke-width="2.4"/><line x1="359.0" y1="141.66" x2="367.1" y2="141.66" stroke="#12e6ee" stroke-width="2.4"/><line x1="438.4" y1="141.66" x2="446.7" y2="141.66" stroke="#12e6ee" stroke-width="2.4"/><line x1="359.0" y1="152.25" x2="367.1" y2="152.25" stroke="#12e6ee" stroke-width="2.4"/><line x1="438.4" y1="152.25" x2="446.7" y2="152.25" stroke="#12e6ee" stroke-width="2.4"/><line x1="359.0" y1="162.84" x2="367.1" y2="162.84" stroke="#12e6ee" stroke-width="2.4"/><line x1="438.4" y1="162.84" x2="446.7" y2="162.84" stroke="#12e6ee" stroke-width="2.4"/><line x1="359.0" y1="173.44" x2="367.1" y2="173.44" stroke="#12e6ee" stroke-width="2.4"/><line x1="438.4" y1="173.44" x2="446.7" y2="173.44" stroke="#12e6ee" stroke-width="2.4"/><line x1="359.0" y1="184.04" x2="367.1" y2="184.04" stroke="#12e6ee" stroke-width="2.4"/><line x1="438.4" y1="184.04" x2="446.7" y2="184.04" stroke="#12e6ee" stroke-width="2.4"/><line x1="359.0" y1="194.63" x2="367.1" y2="194.63" stroke="#12e6ee" stroke-width="2.4"/><line x1="438.4" y1="194.63" x2="446.7" y2="194.63" stroke="#12e6ee" stroke-width="2.4"/><line x1="359.0" y1="205.23" x2="367.1" y2="205.23" stroke="#12e6ee" stroke-width="2.4"/><line x1="438.4" y1="205.23" x2="446.7" y2="205.23" stroke="#12e6ee" stroke-width="2.4"/><line x1="359.0" y1="215.82" x2="367.1" y2="215.82" stroke="#12e6ee" stroke-width="2.4"/><line x1="438.4" y1="215.82" x2="446.7" y2="215.82" stroke="#12e6ee" stroke-width="2.4"/><line x1="359.0" y1="226.42" x2="367.1" y2="226.42" stroke="#12e6ee" stroke-width="2.4"/><line x1="438.4" y1="226.42" x2="446.7" y2="226.42" stroke="#12e6ee" stroke-width="2.4"/><line x1="359.0" y1="237.01" x2="367.1" y2="237.01" stroke="#12e6ee" stroke-width="2.4"/><line x1="438.4" y1="237.01" x2="446.7" y2="237.01" stroke="#12e6ee" stroke-width="2.4"/><line x1="359.0" y1="247.61" x2="367.1" y2="247.61" stroke="#12e6ee" stroke-width="2.4"/><line x1="438.4" y1="247.61" x2="446.7" y2="247.61" stroke="#12e6ee" stroke-width="2.4"/><line x1="359.0" y1="258.20" x2="367.1" y2="258.20" stroke="#12e6ee" stroke-width="2.4"/><line x1="438.4" y1="258.20" x2="446.7" y2="258.20" stroke="#12e6ee" stroke-width="2.4"/><line x1="359.0" y1="268.80" x2="367.1" y2="268.80" stroke="#12e6ee" stroke-width="2.4"/><line x1="438.4" y1="268.80" x2="446.7" y2="268.80" stroke="#12e6ee" stroke-width="2.4"/><line x1="359.0" y1="279.39" x2="367.1" y2="279.39" stroke="#12e6ee" stroke-width="2.4"/><line x1="438.4" y1="279.39" x2="446.7" y2="279.39" stroke="#12e6ee" stroke-width="2.4"/><line x1="359.0" y1="289.99" x2="367.1" y2="289.99" stroke="#12e6ee" stroke-width="2.4"/><line x1="438.4" y1="289.99" x2="446.7" y2="289.99" stroke="#12e6ee" stroke-width="2.4"/><line x1="359.0" y1="300.58" x2="367.1" y2="300.58" stroke="#12e6ee" stroke-width="2.4"/><line x1="438.4" y1="300.58" x2="446.7" y2="300.58" stroke="#12e6ee" stroke-width="2.4"/><line x1="359.0" y1="311.18" x2="367.1" y2="311.18" stroke="#12e6ee" stroke-width="2.4"/><line x1="438.4" y1="311.18" x2="446.7" y2="311.18" stroke="#12e6ee" stroke-width="2.4"/><line x1="359.0" y1="321.77" x2="367.1" y2="321.77" stroke="#12e6ee" stroke-width="2.4"/><line x1="438.4" y1="321.77" x2="446.7" y2="321.77" stroke="#12e6ee" stroke-width="2.4"/><line x1="359.0" y1="332.37" x2="367.1" y2="332.37" stroke="#12e6ee" stroke-width="2.4"/><line x1="438.4" y1="332.37" x2="446.7" y2="332.37" stroke="#12e6ee" stroke-width="2.4"/><line x1="359.0" y1="342.96" x2="367.1" y2="342.96" stroke="#12e6ee" stroke-width="2.4"/><line x1="438.4" y1="342.96" x2="446.7" y2="342.96" stroke="#12e6ee" stroke-width="2.4"/><line x1="359.0" y1="353.56" x2="367.1" y2="353.56" stroke="#12e6ee" stroke-width="2.4"/><line x1="438.4" y1="353.56" x2="446.7" y2="353.56" stroke="#12e6ee" stroke-width="2.4"/><line x1="359.0" y1="364.15" x2="367.1" y2="364.15" stroke="#12e6ee" stroke-width="2.4"/><line x1="438.4" y1="364.15" x2="446.7" y2="364.15" stroke="#12e6ee" stroke-width="2.4"/><line x1="359.0" y1="374.75" x2="367.1" y2="374.75" stroke="#12e6ee" stroke-width="2.4"/><line x1="438.4" y1="374.75" x2="446.7" y2="374.75" stroke="#12e6ee" stroke-width="2.4"/><line x1="359.0" y1="385.34" x2="367.1" y2="385.34" stroke="#12e6ee" stroke-width="2.4"/><line x1="438.4" y1="385.34" x2="446.7" y2="385.34" stroke="#12e6ee" stroke-width="2.4"/><line x1="359.0" y1="395.94" x2="367.1" y2="395.94" stroke="#12e6ee" stroke-width="2.4"/><line x1="438.4" y1="395.94" x2="446.7" y2="395.94" stroke="#12e6ee" stroke-width="2.4"/><line x1="359.0" y1="406.53" x2="367.1" y2="406.53" stroke="#12e6ee" stroke-width="2.4"/><line x1="438.4" y1="406.53" x2="446.7" y2="406.53" stroke="#12e6ee" stroke-width="2.4"/><line x1="359.0" y1="417.13" x2="367.1" y2="417.13" stroke="#12e6ee" stroke-width="2.4"/><line x1="438.4" y1="417.13" x2="446.7" y2="417.13" stroke="#12e6ee" stroke-width="2.4"/><line x1="359.0" y1="427.72" x2="367.1" y2="427.72" stroke="#12e6ee" stroke-width="2.4"/><line x1="438.4" y1="427.72" x2="446.7" y2="427.72" stroke="#12e6ee" stroke-width="2.4"/><line x1="359.0" y1="438.32" x2="367.1" y2="438.32" stroke="#12e6ee" stroke-width="2.4"/><line x1="438.4" y1="438.32" x2="446.7" y2="438.32" stroke="#12e6ee" stroke-width="2.4"/><line x1="359.0" y1="448.91" x2="367.1" y2="448.91" stroke="#12e6ee" stroke-width="2.4"/><line x1="438.4" y1="448.91" x2="446.7" y2="448.91" stroke="#12e6ee" stroke-width="2.4"/><line x1="359.0" y1="459.51" x2="367.1" y2="459.51" stroke="#12e6ee" stroke-width="2.4"/><line x1="438.4" y1="459.51" x2="446.7" y2="459.51" stroke="#12e6ee" stroke-width="2.4"/><line x1="359.0" y1="470.10" x2="367.1" y2="470.10" stroke="#12e6ee" stroke-width="2.4"/><line x1="438.4" y1="470.10" x2="446.7" y2="470.10" stroke="#12e6ee" stroke-width="2.4"/><line x1="359.0" y1="480.70" x2="367.1" y2="480.70" stroke="#12e6ee" stroke-width="2.4"/><line x1="438.4" y1="480.70" x2="446.7" y2="480.70" stroke="#12e6ee" stroke-width="2.4"/><line x1="367.0" y1="46.30" x2="438.5" y2="215.82" stroke="#fb2630" stroke-width="0.9"/><line x1="367.0" y1="56.89" x2="438.5" y2="247.61" stroke="#fb2630" stroke-width="0.9"/><line x1="367.0" y1="67.49" x2="438.5" y2="88.68" stroke="#fb2630" stroke-width="0.9"/><line x1="367.0" y1="78.09" x2="438.5" y2="162.84" stroke="#fb2630" stroke-width="0.9"/><line x1="367.0" y1="88.68" x2="438.5" y2="99.28" stroke="#fb2630" stroke-width="0.9"/><line x1="367.0" y1="99.28" x2="438.5" y2="300.58" stroke="#fb2630" stroke-width="0.9"/><line x1="367.0" y1="109.87" x2="438.5" y2="364.15" stroke="#fb2630" stroke-width="0.9"/><line x1="367.0" y1="120.47" x2="438.5" y2="459.51" stroke="#fb2630" stroke-width="0.9"/><line x1="367.0" y1="131.06" x2="438.5" y2="152.25" stroke="#fb2630" stroke-width="0.9"/><line x1="367.0" y1="141.66" x2="438.5" y2="67.49" stroke="#fb2630" stroke-width="0.9"/><line x1="367.0" y1="152.25" x2="438.5" y2="279.39" stroke="#fb2630" stroke-width="0.9"/><line x1="367.0" y1="162.84" x2="438.5" y2="237.01" stroke="#fb2630" stroke-width="0.9"/><line x1="367.0" y1="173.44" x2="438.5" y2="141.66" stroke="#fb2630" stroke-width="0.9"/><line x1="367.0" y1="184.04" x2="438.5" y2="268.80" stroke="#fb2630" stroke-width="0.9"/><line x1="367.0" y1="194.63" x2="438.5" y2="311.18" stroke="#fb2630" stroke-width="0.9"/><line x1="367.0" y1="205.23" x2="438.5" y2="448.91" stroke="#fb2630" stroke-width="0.9"/><line x1="367.0" y1="215.82" x2="438.5" y2="184.04" stroke="#fb2630" stroke-width="0.9"/><line x1="367.0" y1="226.42" x2="438.5" y2="78.09" stroke="#fb2630" stroke-width="0.9"/><line x1="367.0" y1="237.01" x2="438.5" y2="131.06" stroke="#fb2630" stroke-width="0.9"/><line x1="367.0" y1="247.61" x2="438.5" y2="173.44" stroke="#fb2630" stroke-width="0.9"/><line x1="367.0" y1="258.20" x2="438.5" y2="374.75" stroke="#fb2630" stroke-width="0.9"/><line x1="367.0" y1="268.80" x2="438.5" y2="194.63" stroke="#fb2630" stroke-width="0.9"/><line x1="367.0" y1="279.39" x2="438.5" y2="205.23" stroke="#fb2630" stroke-width="0.9"/><line x1="367.0" y1="289.99" x2="438.5" y2="46.30" stroke="#fb2630" stroke-width="0.9"/><line x1="367.0" y1="300.58" x2="438.5" y2="406.53" stroke="#fb2630" stroke-width="0.9"/><line x1="367.0" y1="311.18" x2="438.5" y2="109.87" stroke="#fb2630" stroke-width="0.9"/><line x1="367.0" y1="321.77" x2="438.5" y2="289.99" stroke="#fb2630" stroke-width="0.9"/><line x1="367.0" y1="332.37" x2="438.5" y2="332.37" stroke="#fb2630" stroke-width="0.9"/><line x1="367.0" y1="342.96" x2="438.5" y2="226.42" stroke="#fb2630" stroke-width="0.9"/><line x1="367.0" y1="353.56" x2="438.5" y2="120.47" stroke="#fb2630" stroke-width="0.9"/><line x1="367.0" y1="364.15" x2="438.5" y2="258.20" stroke="#fb2630" stroke-width="0.9"/><line x1="367.0" y1="374.75" x2="438.5" y2="56.89" stroke="#fb2630" stroke-width="0.9"/><line x1="367.0" y1="385.34" x2="438.5" y2="321.77" stroke="#fb2630" stroke-width="0.9"/><line x1="367.0" y1="395.94" x2="438.5" y2="417.13" stroke="#fb2630" stroke-width="0.9"/><line x1="367.0" y1="406.53" x2="438.5" y2="470.10" stroke="#fb2630" stroke-width="0.9"/><line x1="367.0" y1="417.13" x2="438.5" y2="480.70" stroke="#fb2630" stroke-width="0.9"/><line x1="367.0" y1="427.72" x2="438.5" y2="385.34" stroke="#fb2630" stroke-width="0.9"/><line x1="367.0" y1="438.32" x2="438.5" y2="427.72" stroke="#fb2630" stroke-width="0.9"/><line x1="367.0" y1="448.91" x2="438.5" y2="438.32" stroke="#fb2630" stroke-width="0.9"/><line x1="367.0" y1="459.51" x2="438.5" y2="342.96" stroke="#fb2630" stroke-width="0.9"/><line x1="367.0" y1="470.10" x2="438.5" y2="353.56" stroke="#fb2630" stroke-width="0.9"/><line x1="367.0" y1="480.70" x2="438.5" y2="395.94" stroke="#fb2630" stroke-width="0.9"/>
<text x="519.3" y="50.30" text-anchor="middle">102</text><text x="537.3" y="50.30" text-anchor="middle">29</text><text x="519.3" y="60.89" text-anchor="middle">54</text><text x="537.3" y="60.89" text-anchor="middle">40</text><text x="519.3" y="71.49" text-anchor="middle">44</text><text x="537.3" y="71.49" text-anchor="middle">33</text><text x="519.3" y="82.09" text-anchor="middle">22</text><text x="537.3" y="82.09" text-anchor="middle">7</text><text x="519.3" y="92.68" text-anchor="middle">21</text><text x="537.3" y="92.68" text-anchor="middle">28</text><text x="519.3" y="103.28" text-anchor="middle">15</text><text x="537.3" y="103.28" text-anchor="middle">30</text><text x="519.3" y="113.87" text-anchor="middle">14</text><text x="537.3" y="113.87" text-anchor="middle">6</text><text x="519.3" y="124.47" text-anchor="middle">14</text><text x="537.3" y="124.47" text-anchor="middle">50</text><text x="519.3" y="135.06" text-anchor="middle">13</text><text x="537.3" y="135.06" text-anchor="middle">5</text><text x="519.3" y="145.66" text-anchor="middle">12</text><text x="537.3" y="145.66" text-anchor="middle">32</text><text x="519.3" y="156.25" text-anchor="middle">6</text><text x="537.3" y="156.25" text-anchor="middle">41</text><text x="519.3" y="166.84" text-anchor="middle">5</text><text x="537.3" y="166.84" text-anchor="middle">45</text><text x="519.3" y="177.44" text-anchor="middle">4</text><text x="537.3" y="177.44" text-anchor="middle">10</text><text x="519.3" y="188.04" text-anchor="middle">4</text><text x="537.3" y="188.04" text-anchor="middle">36</text><text x="519.3" y="198.63" text-anchor="middle">3</text><text x="537.3" y="198.63" text-anchor="middle">31</text><text x="519.3" y="209.23" text-anchor="middle">3</text><text x="537.3" y="209.23" text-anchor="middle">12</text><text x="519.3" y="219.82" text-anchor="middle">3</text><text x="537.3" y="219.82" text-anchor="middle">47</text><text x="519.3" y="230.42" text-anchor="middle">3</text><text x="537.3" y="230.42" text-anchor="middle">48</text><text x="519.3" y="241.01" text-anchor="middle">3</text><text x="537.3" y="241.01" text-anchor="middle">8</text><text x="519.3" y="251.61" text-anchor="middle">2</text><text x="537.3" y="251.61" text-anchor="middle">3</text><text x="519.3" y="262.20" text-anchor="middle">2</text><text x="537.3" y="262.20" text-anchor="middle">24</text><text x="519.3" y="272.80" text-anchor="middle">1</text><text x="537.3" y="272.80" text-anchor="middle">15</text><text x="519.3" y="283.39" text-anchor="middle">1</text><text x="537.3" y="283.39" text-anchor="middle">22</text><text x="519.3" y="293.99" text-anchor="middle">1</text><text x="537.3" y="293.99" text-anchor="middle">25</text><text x="519.3" y="304.58" text-anchor="middle">1</text><text x="537.3" y="304.58" text-anchor="middle">20</text><text x="519.3" y="315.18" text-anchor="middle">0</text><text x="537.3" y="315.18" text-anchor="middle">14</text><text x="519.3" y="325.77" text-anchor="middle">0</text><text x="537.3" y="325.77" text-anchor="middle">2</text><text x="519.3" y="336.37" text-anchor="middle">0</text><text x="537.3" y="336.37" text-anchor="middle">16</text><text x="519.3" y="346.96" text-anchor="middle">0</text><text x="537.3" y="346.96" text-anchor="middle">35</text><text x="519.3" y="357.56" text-anchor="middle">0</text><text x="537.3" y="357.56" text-anchor="middle">17</text><text x="519.3" y="368.15" text-anchor="middle">0</text><text x="537.3" y="368.15" text-anchor="middle">13</text><text x="519.3" y="378.75" text-anchor="middle">0</text><text x="537.3" y="378.75" text-anchor="middle">39</text><text x="519.3" y="389.34" text-anchor="middle">0</text><text x="537.3" y="389.34" text-anchor="middle">27</text><text x="519.3" y="399.94" text-anchor="middle">0</text><text x="537.3" y="399.94" text-anchor="middle">4</text><text x="519.3" y="410.53" text-anchor="middle">0</text><text x="537.3" y="410.53" text-anchor="middle">19</text><text x="519.3" y="421.13" text-anchor="middle">0</text><text x="537.3" y="421.13" text-anchor="middle">23</text><text x="519.3" y="431.72" text-anchor="middle">0</text><text x="537.3" y="431.72" text-anchor="middle">42</text><text x="519.3" y="442.32" text-anchor="middle">0</text><text x="537.3" y="442.32" text-anchor="middle">11</text><text x="519.3" y="452.91" text-anchor="middle">0</text><text x="537.3" y="452.91" text-anchor="middle">38</text><text x="519.3" y="463.51" text-anchor="middle">0</text><text x="537.3" y="463.51" text-anchor="middle">34</text><text x="519.3" y="474.10" text-anchor="middle">0</text><text x="537.3" y="474.10" text-anchor="middle">26</text><text x="519.3" y="484.70" text-anchor="middle">0</text><text x="537.3" y="484.70" text-anchor="middle">18</text><text x="646.2" y="50.30" text-anchor="middle">7</text><text x="664.6" y="50.30" text-anchor="middle">1085</text><text x="646.2" y="60.89" text-anchor="middle">38</text><text x="664.6" y="60.89" text-anchor="middle">346</text><text x="646.2" y="71.49" text-anchor="middle">10</text><text x="664.6" y="71.49" text-anchor="middle">226</text><text x="646.2" y="82.09" text-anchor="middle">32</text><text x="664.6" y="82.09" text-anchor="middle">220</text><text x="646.2" y="92.68" text-anchor="middle">11</text><text x="664.6" y="92.68" text-anchor="middle">204</text><text x="646.2" y="103.28" text-anchor="middle">34</text><text x="664.6" y="103.28" text-anchor="middle">163</text><text x="646.2" y="113.87" text-anchor="middle">6</text><text x="664.6" y="113.87" text-anchor="middle">158</text><text x="646.2" y="124.47" text-anchor="middle">47</text><text x="664.6" y="124.47" text-anchor="middle">124</text><text x="646.2" y="135.06" text-anchor="middle">12</text><text x="664.6" y="135.06" text-anchor="middle">117</text><text x="646.2" y="145.66" text-anchor="middle">33</text><text x="664.6" y="145.66" text-anchor="middle">113</text><text x="646.2" y="156.25" text-anchor="middle">41</text><text x="664.6" y="156.25" text-anchor="middle">109</text><text x="646.2" y="166.84" text-anchor="middle">28</text><text x="664.6" y="166.84" text-anchor="middle">71</text><text x="646.2" y="177.44" text-anchor="middle">2</text><text x="664.6" y="177.44" text-anchor="middle">70</text><text x="646.2" y="188.04" text-anchor="middle">25</text><text x="664.6" y="188.04" text-anchor="middle">64</text><text x="646.2" y="198.63" text-anchor="middle">3</text><text x="664.6" y="198.63" text-anchor="middle">61</text><text x="646.2" y="209.23" text-anchor="middle">18</text><text x="664.6" y="209.23" text-anchor="middle">58</text><text x="646.2" y="219.82" text-anchor="middle">20</text><text x="664.6" y="219.82" text-anchor="middle">56</text><text x="646.2" y="230.42" text-anchor="middle">39</text><text x="664.6" y="230.42" text-anchor="middle">53</text><text x="646.2" y="241.01" text-anchor="middle">50</text><text x="664.6" y="241.01" text-anchor="middle">45</text><text x="646.2" y="251.61" text-anchor="middle">13</text><text x="664.6" y="251.61" text-anchor="middle">42</text><text x="646.2" y="262.20" text-anchor="middle">42</text><text x="664.6" y="262.20" text-anchor="middle">39</text><text x="646.2" y="272.80" text-anchor="middle">4</text><text x="664.6" y="272.80" text-anchor="middle">31</text><text x="646.2" y="283.39" text-anchor="middle">8</text><text x="664.6" y="283.39" text-anchor="middle">31</text><text x="646.2" y="293.99" text-anchor="middle">26</text><text x="664.6" y="293.99" text-anchor="middle">30</text><text x="646.2" y="304.58" text-anchor="middle">40</text><text x="664.6" y="304.58" text-anchor="middle">22</text><text x="646.2" y="315.18" text-anchor="middle">5</text><text x="664.6" y="315.18" text-anchor="middle">12</text><text x="646.2" y="325.77" text-anchor="middle">14</text><text x="664.6" y="325.77" text-anchor="middle">11</text><text x="646.2" y="336.37" text-anchor="middle">15</text><text x="664.6" y="336.37" text-anchor="middle">11</text><text x="646.2" y="346.96" text-anchor="middle">17</text><text x="664.6" y="346.96" text-anchor="middle">11</text><text x="646.2" y="357.56" text-anchor="middle">16</text><text x="664.6" y="357.56" text-anchor="middle">11</text><text x="646.2" y="368.15" text-anchor="middle">19</text><text x="664.6" y="368.15" text-anchor="middle">7</text><text x="646.2" y="378.75" text-anchor="middle">22</text><text x="664.6" y="378.75" text-anchor="middle">7</text><text x="646.2" y="389.34" text-anchor="middle">24</text><text x="664.6" y="389.34" text-anchor="middle">6</text><text x="646.2" y="399.94" text-anchor="middle">23</text><text x="664.6" y="399.94" text-anchor="middle">6</text><text x="646.2" y="410.53" text-anchor="middle">27</text><text x="664.6" y="410.53" text-anchor="middle">4</text><text x="646.2" y="421.13" text-anchor="middle">29</text><text x="664.6" y="421.13" text-anchor="middle">4</text><text x="646.2" y="431.72" text-anchor="middle">31</text><text x="664.6" y="431.72" text-anchor="middle">2</text><text x="646.2" y="442.32" text-anchor="middle">30</text><text x="664.6" y="442.32" text-anchor="middle">2</text><text x="646.2" y="452.91" text-anchor="middle">48</text><text x="664.6" y="452.91" text-anchor="middle">0</text><text x="646.2" y="463.51" text-anchor="middle">45</text><text x="664.6" y="463.51" text-anchor="middle">0</text><text x="646.2" y="474.10" text-anchor="middle">36</text><text x="664.6" y="474.10" text-anchor="middle">0</text><text x="646.2" y="484.70" text-anchor="middle">35</text><text x="664.6" y="484.70" text-anchor="middle">0</text><line x1="555.5" y1="46.00" x2="555.5" y2="481.00" stroke="#000" stroke-width="2.4"/><line x1="628.3" y1="46.00" x2="628.3" y2="481.00" stroke="#000" stroke-width="2.4"/><line x1="548.0" y1="46.30" x2="556.1" y2="46.30" stroke="#12e6ee" stroke-width="2.4"/><line x1="627.6999999999999" y1="46.30" x2="636.0" y2="46.30" stroke="#12e6ee" stroke-width="2.4"/><line x1="548.0" y1="56.89" x2="556.1" y2="56.89" stroke="#12e6ee" stroke-width="2.4"/><line x1="627.6999999999999" y1="56.89" x2="636.0" y2="56.89" stroke="#12e6ee" stroke-width="2.4"/><line x1="548.0" y1="67.49" x2="556.1" y2="67.49" stroke="#12e6ee" stroke-width="2.4"/><line x1="627.6999999999999" y1="67.49" x2="636.0" y2="67.49" stroke="#12e6ee" stroke-width="2.4"/><line x1="548.0" y1="78.09" x2="556.1" y2="78.09" stroke="#12e6ee" stroke-width="2.4"/><line x1="627.6999999999999" y1="78.09" x2="636.0" y2="78.09" stroke="#12e6ee" stroke-width="2.4"/><line x1="548.0" y1="88.68" x2="556.1" y2="88.68" stroke="#12e6ee" stroke-width="2.4"/><line x1="627.6999999999999" y1="88.68" x2="636.0" y2="88.68" stroke="#12e6ee" stroke-width="2.4"/><line x1="548.0" y1="99.28" x2="556.1" y2="99.28" stroke="#12e6ee" stroke-width="2.4"/><line x1="627.6999999999999" y1="99.28" x2="636.0" y2="99.28" stroke="#12e6ee" stroke-width="2.4"/><line x1="548.0" y1="109.87" x2="556.1" y2="109.87" stroke="#12e6ee" stroke-width="2.4"/><line x1="627.6999999999999" y1="109.87" x2="636.0" y2="109.87" stroke="#12e6ee" stroke-width="2.4"/><line x1="548.0" y1="120.47" x2="556.1" y2="120.47" stroke="#12e6ee" stroke-width="2.4"/><line x1="627.6999999999999" y1="120.47" x2="636.0" y2="120.47" stroke="#12e6ee" stroke-width="2.4"/><line x1="548.0" y1="131.06" x2="556.1" y2="131.06" stroke="#12e6ee" stroke-width="2.4"/><line x1="627.6999999999999" y1="131.06" x2="636.0" y2="131.06" stroke="#12e6ee" stroke-width="2.4"/><line x1="548.0" y1="141.66" x2="556.1" y2="141.66" stroke="#12e6ee" stroke-width="2.4"/><line x1="627.6999999999999" y1="141.66" x2="636.0" y2="141.66" stroke="#12e6ee" stroke-width="2.4"/><line x1="548.0" y1="152.25" x2="556.1" y2="152.25" stroke="#12e6ee" stroke-width="2.4"/><line x1="627.6999999999999" y1="152.25" x2="636.0" y2="152.25" stroke="#12e6ee" stroke-width="2.4"/><line x1="548.0" y1="162.84" x2="556.1" y2="162.84" stroke="#12e6ee" stroke-width="2.4"/><line x1="627.6999999999999" y1="162.84" x2="636.0" y2="162.84" stroke="#12e6ee" stroke-width="2.4"/><line x1="548.0" y1="173.44" x2="556.1" y2="173.44" stroke="#12e6ee" stroke-width="2.4"/><line x1="627.6999999999999" y1="173.44" x2="636.0" y2="173.44" stroke="#12e6ee" stroke-width="2.4"/><line x1="548.0" y1="184.04" x2="556.1" y2="184.04" stroke="#12e6ee" stroke-width="2.4"/><line x1="627.6999999999999" y1="184.04" x2="636.0" y2="184.04" stroke="#12e6ee" stroke-width="2.4"/><line x1="548.0" y1="194.63" x2="556.1" y2="194.63" stroke="#12e6ee" stroke-width="2.4"/><line x1="627.6999999999999" y1="194.63" x2="636.0" y2="194.63" stroke="#12e6ee" stroke-width="2.4"/><line x1="548.0" y1="205.23" x2="556.1" y2="205.23" stroke="#12e6ee" stroke-width="2.4"/><line x1="627.6999999999999" y1="205.23" x2="636.0" y2="205.23" stroke="#12e6ee" stroke-width="2.4"/><line x1="548.0" y1="215.82" x2="556.1" y2="215.82" stroke="#12e6ee" stroke-width="2.4"/><line x1="627.6999999999999" y1="215.82" x2="636.0" y2="215.82" stroke="#12e6ee" stroke-width="2.4"/><line x1="548.0" y1="226.42" x2="556.1" y2="226.42" stroke="#12e6ee" stroke-width="2.4"/><line x1="627.6999999999999" y1="226.42" x2="636.0" y2="226.42" stroke="#12e6ee" stroke-width="2.4"/><line x1="548.0" y1="237.01" x2="556.1" y2="237.01" stroke="#12e6ee" stroke-width="2.4"/><line x1="627.6999999999999" y1="237.01" x2="636.0" y2="237.01" stroke="#12e6ee" stroke-width="2.4"/><line x1="548.0" y1="247.61" x2="556.1" y2="247.61" stroke="#12e6ee" stroke-width="2.4"/><line x1="627.6999999999999" y1="247.61" x2="636.0" y2="247.61" stroke="#12e6ee" stroke-width="2.4"/><line x1="548.0" y1="258.20" x2="556.1" y2="258.20" stroke="#12e6ee" stroke-width="2.4"/><line x1="627.6999999999999" y1="258.20" x2="636.0" y2="258.20" stroke="#12e6ee" stroke-width="2.4"/><line x1="548.0" y1="268.80" x2="556.1" y2="268.80" stroke="#12e6ee" stroke-width="2.4"/><line x1="627.6999999999999" y1="268.80" x2="636.0" y2="268.80" stroke="#12e6ee" stroke-width="2.4"/><line x1="548.0" y1="279.39" x2="556.1" y2="279.39" stroke="#12e6ee" stroke-width="2.4"/><line x1="627.6999999999999" y1="279.39" x2="636.0" y2="279.39" stroke="#12e6ee" stroke-width="2.4"/><line x1="548.0" y1="289.99" x2="556.1" y2="289.99" stroke="#12e6ee" stroke-width="2.4"/><line x1="627.6999999999999" y1="289.99" x2="636.0" y2="289.99" stroke="#12e6ee" stroke-width="2.4"/><line x1="548.0" y1="300.58" x2="556.1" y2="300.58" stroke="#12e6ee" stroke-width="2.4"/><line x1="627.6999999999999" y1="300.58" x2="636.0" y2="300.58" stroke="#12e6ee" stroke-width="2.4"/><line x1="548.0" y1="311.18" x2="556.1" y2="311.18" stroke="#12e6ee" stroke-width="2.4"/><line x1="627.6999999999999" y1="311.18" x2="636.0" y2="311.18" stroke="#12e6ee" stroke-width="2.4"/><line x1="548.0" y1="321.77" x2="556.1" y2="321.77" stroke="#12e6ee" stroke-width="2.4"/><line x1="627.6999999999999" y1="321.77" x2="636.0" y2="321.77" stroke="#12e6ee" stroke-width="2.4"/><line x1="548.0" y1="332.37" x2="556.1" y2="332.37" stroke="#12e6ee" stroke-width="2.4"/><line x1="627.6999999999999" y1="332.37" x2="636.0" y2="332.37" stroke="#12e6ee" stroke-width="2.4"/><line x1="548.0" y1="342.96" x2="556.1" y2="342.96" stroke="#12e6ee" stroke-width="2.4"/><line x1="627.6999999999999" y1="342.96" x2="636.0" y2="342.96" stroke="#12e6ee" stroke-width="2.4"/><line x1="548.0" y1="353.56" x2="556.1" y2="353.56" stroke="#12e6ee" stroke-width="2.4"/><line x1="627.6999999999999" y1="353.56" x2="636.0" y2="353.56" stroke="#12e6ee" stroke-width="2.4"/><line x1="548.0" y1="364.15" x2="556.1" y2="364.15" stroke="#12e6ee" stroke-width="2.4"/><line x1="627.6999999999999" y1="364.15" x2="636.0" y2="364.15" stroke="#12e6ee" stroke-width="2.4"/><line x1="548.0" y1="374.75" x2="556.1" y2="374.75" stroke="#12e6ee" stroke-width="2.4"/><line x1="627.6999999999999" y1="374.75" x2="636.0" y2="374.75" stroke="#12e6ee" stroke-width="2.4"/><line x1="548.0" y1="385.34" x2="556.1" y2="385.34" stroke="#12e6ee" stroke-width="2.4"/><line x1="627.6999999999999" y1="385.34" x2="636.0" y2="385.34" stroke="#12e6ee" stroke-width="2.4"/><line x1="548.0" y1="395.94" x2="556.1" y2="395.94" stroke="#12e6ee" stroke-width="2.4"/><line x1="627.6999999999999" y1="395.94" x2="636.0" y2="395.94" stroke="#12e6ee" stroke-width="2.4"/><line x1="548.0" y1="406.53" x2="556.1" y2="406.53" stroke="#12e6ee" stroke-width="2.4"/><line x1="627.6999999999999" y1="406.53" x2="636.0" y2="406.53" stroke="#12e6ee" stroke-width="2.4"/><line x1="548.0" y1="417.13" x2="556.1" y2="417.13" stroke="#12e6ee" stroke-width="2.4"/><line x1="627.6999999999999" y1="417.13" x2="636.0" y2="417.13" stroke="#12e6ee" stroke-width="2.4"/><line x1="548.0" y1="427.72" x2="556.1" y2="427.72" stroke="#12e6ee" stroke-width="2.4"/><line x1="627.6999999999999" y1="427.72" x2="636.0" y2="427.72" stroke="#12e6ee" stroke-width="2.4"/><line x1="548.0" y1="438.32" x2="556.1" y2="438.32" stroke="#12e6ee" stroke-width="2.4"/><line x1="627.6999999999999" y1="438.32" x2="636.0" y2="438.32" stroke="#12e6ee" stroke-width="2.4"/><line x1="548.0" y1="448.91" x2="556.1" y2="448.91" stroke="#12e6ee" stroke-width="2.4"/><line x1="627.6999999999999" y1="448.91" x2="636.0" y2="448.91" stroke="#12e6ee" stroke-width="2.4"/><line x1="548.0" y1="459.51" x2="556.1" y2="459.51" stroke="#12e6ee" stroke-width="2.4"/><line x1="627.6999999999999" y1="459.51" x2="636.0" y2="459.51" stroke="#12e6ee" stroke-width="2.4"/><line x1="548.0" y1="470.10" x2="556.1" y2="470.10" stroke="#12e6ee" stroke-width="2.4"/><line x1="627.6999999999999" y1="470.10" x2="636.0" y2="470.10" stroke="#12e6ee" stroke-width="2.4"/><line x1="548.0" y1="480.70" x2="556.1" y2="480.70" stroke="#12e6ee" stroke-width="2.4"/><line x1="627.6999999999999" y1="480.70" x2="636.0" y2="480.70" stroke="#12e6ee" stroke-width="2.4"/><line x1="556.0" y1="46.30" x2="627.8" y2="417.13" stroke="#fb2630" stroke-width="0.9"/><line x1="556.0" y1="56.89" x2="627.8" y2="300.58" stroke="#fb2630" stroke-width="0.9"/><line x1="556.0" y1="67.49" x2="627.8" y2="141.66" stroke="#fb2630" stroke-width="0.9"/><line x1="556.0" y1="78.09" x2="627.8" y2="46.30" stroke="#fb2630" stroke-width="0.9"/><line x1="556.0" y1="88.68" x2="627.8" y2="162.84" stroke="#fb2630" stroke-width="0.9"/><line x1="556.0" y1="99.28" x2="627.8" y2="438.32" stroke="#fb2630" stroke-width="0.9"/><line x1="556.0" y1="109.87" x2="627.8" y2="109.87" stroke="#fb2630" stroke-width="0.9"/><line x1="556.0" y1="120.47" x2="627.8" y2="237.01" stroke="#fb2630" stroke-width="0.9"/><line x1="556.0" y1="131.06" x2="627.8" y2="311.18" stroke="#fb2630" stroke-width="0.9"/><line x1="556.0" y1="141.66" x2="627.8" y2="78.09" stroke="#fb2630" stroke-width="0.9"/><line x1="556.0" y1="152.25" x2="627.8" y2="152.25" stroke="#fb2630" stroke-width="0.9"/><line x1="556.0" y1="162.84" x2="627.8" y2="459.51" stroke="#fb2630" stroke-width="0.9"/><line x1="556.0" y1="173.44" x2="627.8" y2="67.49" stroke="#fb2630" stroke-width="0.9"/><line x1="556.0" y1="184.04" x2="627.8" y2="470.10" stroke="#fb2630" stroke-width="0.9"/><line x1="556.0" y1="194.63" x2="627.8" y2="427.72" stroke="#fb2630" stroke-width="0.9"/><line x1="556.0" y1="205.23" x2="627.8" y2="131.06" stroke="#fb2630" stroke-width="0.9"/><line x1="556.0" y1="215.82" x2="627.8" y2="120.47" stroke="#fb2630" stroke-width="0.9"/><line x1="556.0" y1="226.42" x2="627.8" y2="448.91" stroke="#fb2630" stroke-width="0.9"/><line x1="556.0" y1="237.01" x2="627.8" y2="279.39" stroke="#fb2630" stroke-width="0.9"/><line x1="556.0" y1="247.61" x2="627.8" y2="194.63" stroke="#fb2630" stroke-width="0.9"/><line x1="556.0" y1="258.20" x2="627.8" y2="385.34" stroke="#fb2630" stroke-width="0.9"/><line x1="556.0" y1="268.80" x2="627.8" y2="332.37" stroke="#fb2630" stroke-width="0.9"/><line x1="556.0" y1="279.39" x2="627.8" y2="374.75" stroke="#fb2630" stroke-width="0.9"/><line x1="556.0" y1="289.99" x2="627.8" y2="184.04" stroke="#fb2630" stroke-width="0.9"/><line x1="556.0" y1="300.58" x2="627.8" y2="215.82" stroke="#fb2630" stroke-width="0.9"/><line x1="556.0" y1="311.18" x2="627.8" y2="321.77" stroke="#fb2630" stroke-width="0.9"/><line x1="556.0" y1="321.77" x2="627.8" y2="173.44" stroke="#fb2630" stroke-width="0.9"/><line x1="556.0" y1="332.37" x2="627.8" y2="353.56" stroke="#fb2630" stroke-width="0.9"/><line x1="556.0" y1="342.96" x2="627.8" y2="480.70" stroke="#fb2630" stroke-width="0.9"/><line x1="556.0" y1="353.56" x2="627.8" y2="342.96" stroke="#fb2630" stroke-width="0.9"/><line x1="556.0" y1="364.15" x2="627.8" y2="247.61" stroke="#fb2630" stroke-width="0.9"/><line x1="556.0" y1="374.75" x2="627.8" y2="226.42" stroke="#fb2630" stroke-width="0.9"/><line x1="556.0" y1="385.34" x2="627.8" y2="406.53" stroke="#fb2630" stroke-width="0.9"/><line x1="556.0" y1="395.94" x2="627.8" y2="268.80" stroke="#fb2630" stroke-width="0.9"/><line x1="556.0" y1="406.53" x2="627.8" y2="364.15" stroke="#fb2630" stroke-width="0.9"/><line x1="556.0" y1="417.13" x2="627.8" y2="395.94" stroke="#fb2630" stroke-width="0.9"/><line x1="556.0" y1="427.72" x2="627.8" y2="258.20" stroke="#fb2630" stroke-width="0.9"/><line x1="556.0" y1="438.32" x2="627.8" y2="88.68" stroke="#fb2630" stroke-width="0.9"/><line x1="556.0" y1="448.91" x2="627.8" y2="56.89" stroke="#fb2630" stroke-width="0.9"/><line x1="556.0" y1="459.51" x2="627.8" y2="99.28" stroke="#fb2630" stroke-width="0.9"/><line x1="556.0" y1="470.10" x2="627.8" y2="289.99" stroke="#fb2630" stroke-width="0.9"/><line x1="556.0" y1="480.70" x2="627.8" y2="205.23" stroke="#fb2630" stroke-width="0.9"/>
</g>
<text transform="translate(328.5,38.0) rotate(-45)" font-size="10.3" fill="#363636" stroke="#363636">2.0<tspan font-style="italic">Nm</tspan></text>
<text transform="translate(347.9,39.1) rotate(-45)" font-size="10.3" fill="#363636" stroke="#363636">Clone ID</text>
<text transform="translate(456.9,39.1) rotate(-45)" font-size="10.3" fill="#363636" stroke="#363636">Clone ID</text>
<text transform="translate(476.1,36.8) rotate(-45)" font-size="10.3" fill="#363636" stroke="#363636">2.5<tspan font-style="italic">Nm</tspan></text>
<text transform="translate(517.8,37.6) rotate(-45)" font-size="10.8" fill="#363636" stroke="#363636">2.0<tspan font-style="italic">Nf</tspan></text>
<text transform="translate(533.7,39.2) rotate(-45)" font-size="10.3" fill="#363636" stroke="#363636">Clone ID</text>
<text transform="translate(645.5,38.0) rotate(-45)" font-size="10.3" fill="#363636" stroke="#363636">Clone ID</text>
<text transform="translate(665.4,36.1) rotate(-45)" font-size="10.8" fill="#363636" stroke="#363636">2.5<tspan font-style="italic">Nf</tspan></text>
<text x="306.5" y="484.4" font-size="17" fill="#111" stroke="#111">C</text>
<text x="496" y="484.4" font-size="17" fill="#111" stroke="#111">D</text></svg>
</body></html>
